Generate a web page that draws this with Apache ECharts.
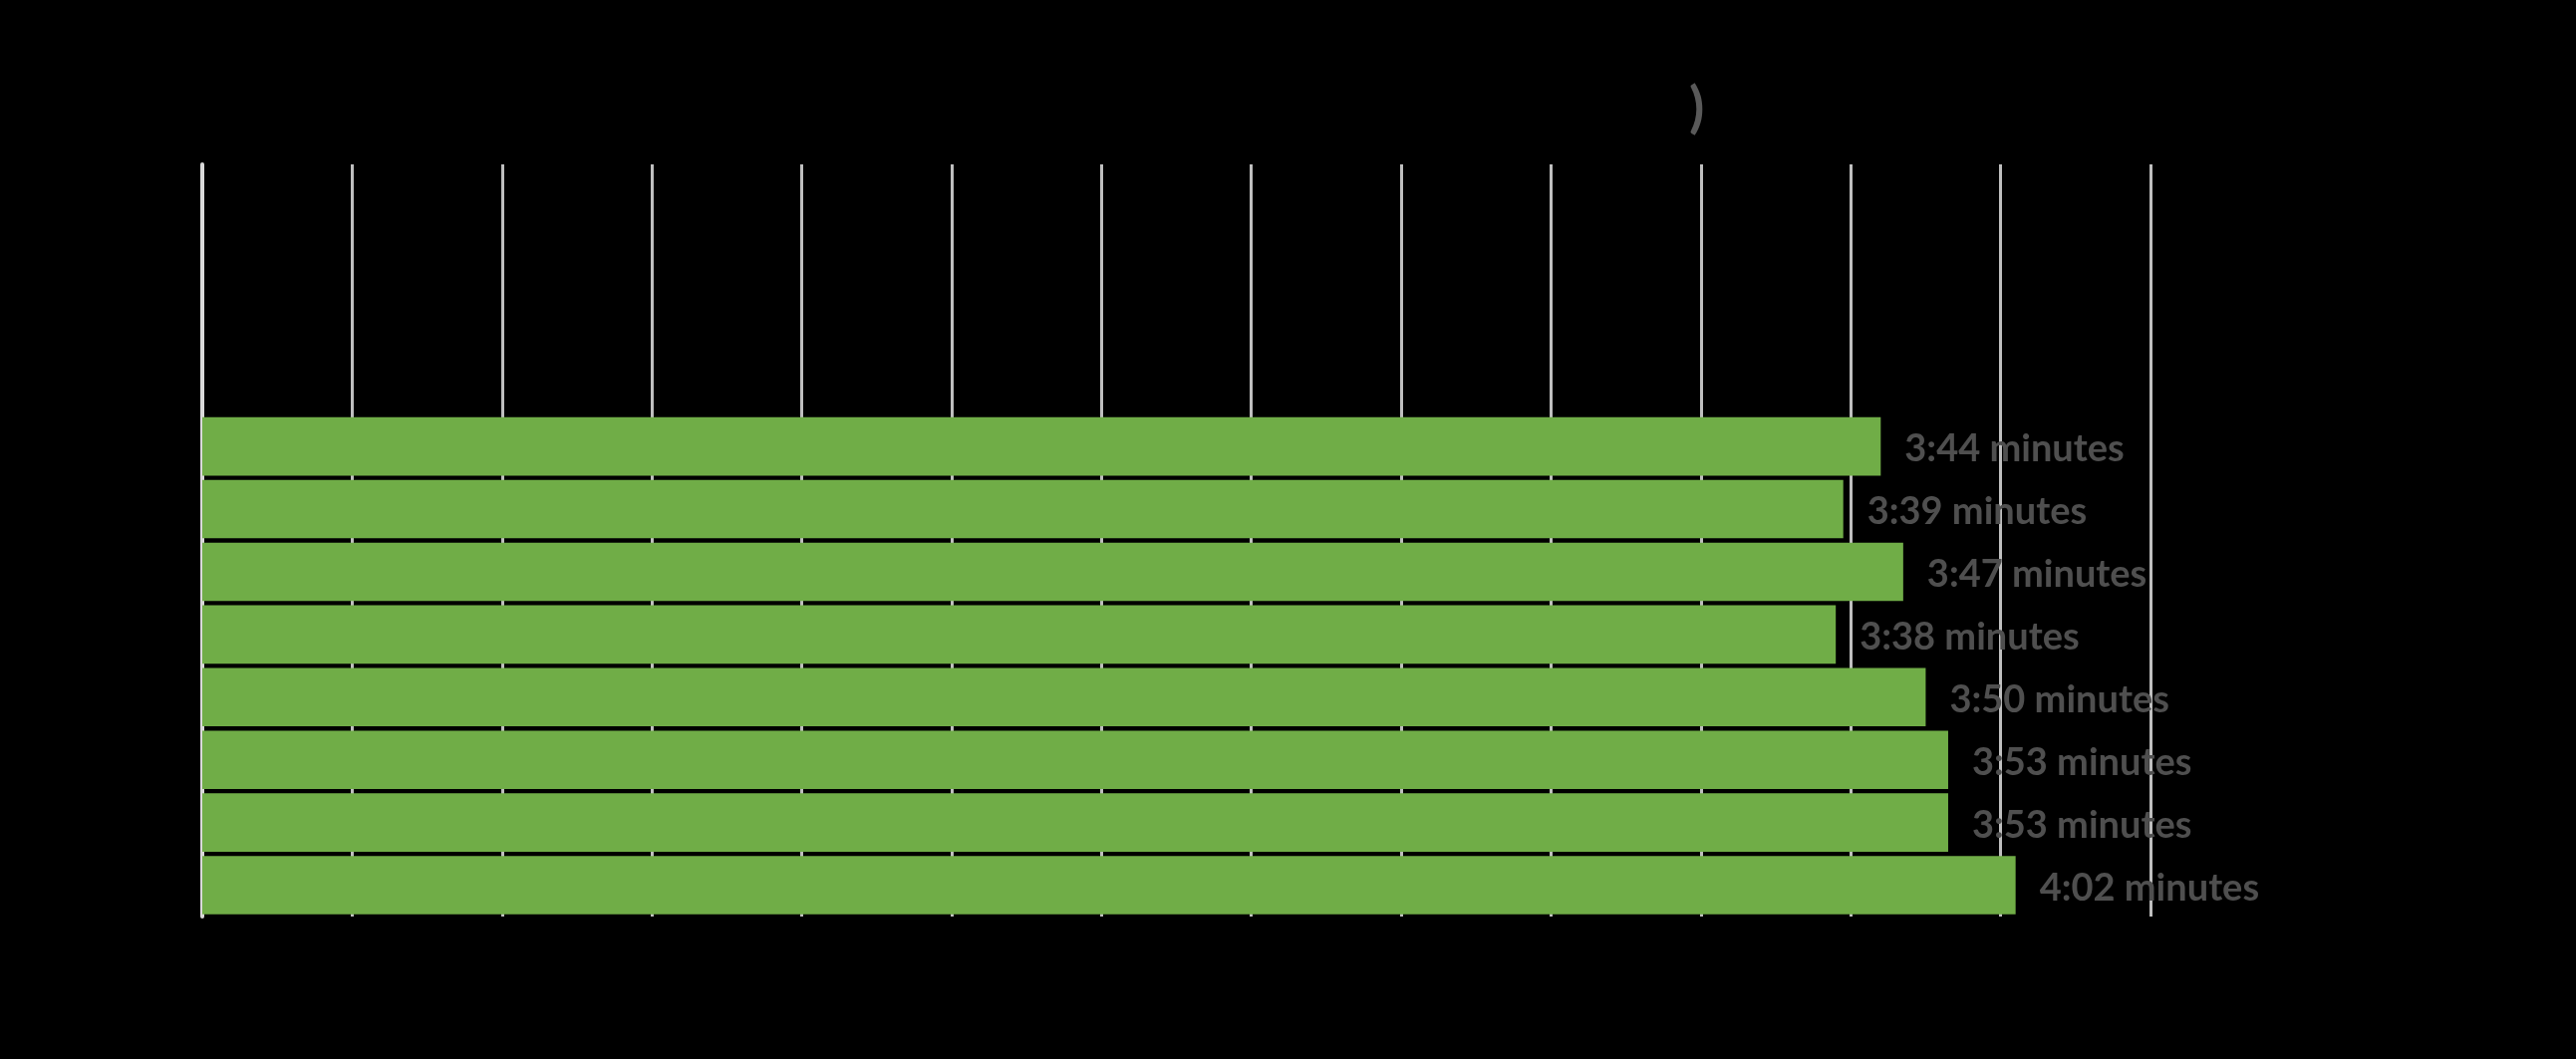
<!DOCTYPE html>
<html>
<head>
<meta charset="utf-8">
<title>Durations</title>
<script src="https://cdn.jsdelivr.net/npm/echarts@6/dist/echarts.min.js"></script>
<style>
  html, body { margin: 0; padding: 0; background: #000; }
  #chart { width: 2585px; height: 1063px; }
</style>
</head>
<body>
<div id="chart"></div>
<script>
// rows from top to bottom; the first four slots of the plot are empty
const emptySlots = ['empty 1', 'empty 2', 'empty 3', 'empty 4']
const categories = ['row 1', 'row 2', 'row 3', 'row 4', 'row 5', 'row 6', 'row 7', 'row 8']
// durations in seconds (3:44 = 224 s ...)
const durations = [224, 219, 227, 218, 230, 233, 233, 242]
const xMin = 0
const xMax = 260
const xStep = 20

function fmt(sec) {
  const m = Math.floor(sec / 60)
  const s = sec % 60
  return m + ':' + (s < 10 ? '0' + s : s) + ' minutes'
}

const chart = echarts.init(document.getElementById('chart'))
chart.setOption({
  backgroundColor: '#000',
  animation: false,
  title: {
    // only the closing bracket of the title shows up on the dark background
    text: ')',
    left: 1690,
    top: 76,
    textStyle: {
      color: '#595959',
      fontFamily: 'Lato',
      fontWeight: 'bold',
      fontSize: 56
    }
  },
  grid: {
    left: 203,
    right: 427,
    top: 165,
    bottom: 143,
    containLabel: false
  },
  xAxis: {
    type: 'value',
    position: 'top',
    min: xMin,
    max: xMax,
    interval: xStep,
    axisLine: { show: false },
    axisTick: { show: false },
    axisLabel: { show: false },
    splitLine: {
      show: true,
      lineStyle: { color: '#bfbfbf', width: 3 }
    }
  },
  yAxis: {
    type: 'category',
    inverse: true,
    data: emptySlots.concat(categories),
    axisLine: {
      show: true,
      lineStyle: { color: '#d9d9d9', width: 4 }
    },
    axisTick: { show: false },
    axisLabel: { show: false },
    splitLine: { show: false }
  },
  series: [
    {
      type: 'bar',
      data: emptySlots.map(() => null).concat(durations),
      barCategoryGap: '7%',
      itemStyle: { color: '#70ad47' },
      label: {
        show: true,
        position: 'right',
        distance: 24,
        offset: [0, 3],
        color: '#4f4f4f',
        fontFamily: 'Lato',
        fontWeight: 'bold',
        fontSize: 38,
        formatter: (p) => fmt(p.value)
      }
    }
  ]
})
</script>
</body>
</html>
